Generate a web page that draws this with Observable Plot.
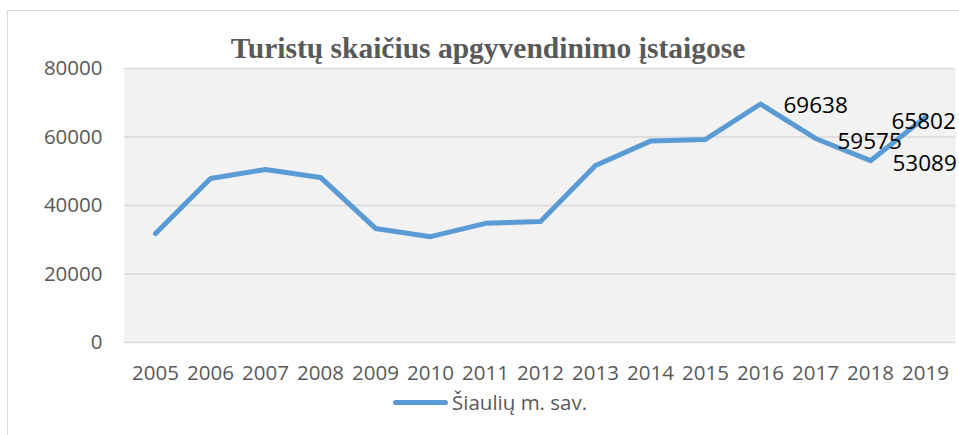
<!DOCTYPE html>
<html>
<head>
<meta charset="utf-8">
<script src="https://cdn.jsdelivr.net/npm/d3@7"></script>
<script src="https://cdn.jsdelivr.net/npm/@observablehq/plot@0.6"></script>
<style>
  html, body { margin: 0; padding: 0; background: #fff; overflow: hidden; }
  #wrap { position: relative; width: 959px; height: 435px; overflow: hidden; }
  #border { position: absolute; left: 7px; top: 10px; width: 1000px; height: 1000px; border: 1.5px solid #d9d9d9; box-sizing: border-box; }
  #title { position: absolute; left: 0; width: 976px; top: 31px; text-align: center; font-family: "Liberation Serif", "Times New Roman", serif; font-weight: bold; font-size: 29.5px; color: #595959; white-space: nowrap; line-height: 34px; }
  #legend { position: absolute; left: 393px; top: 390px; height: 24px; display: flex; align-items: center; font-family: "Open Sans", sans-serif; font-size: 20.5px; color: #595959; }
  #legend .sw { width: 55px; height: 5px; border-radius: 3px; background: #5b9bd5; margin-right: 4px; }
  #chart { position: absolute; left: 0; top: 0; }
</style>
</head>
<body>
<div id="wrap">
  <div id="border"></div>
  <div id="chart"></div>
  <div id="title">Turistų skaičius apgyvendinimo įstaigose</div>
  <div id="legend"><div class="sw"></div><span>Šiaulių m. sav.</span></div>
</div>
<script>
const years = ["2005","2006","2007","2008","2009","2010","2011","2012","2013","2014","2015","2016","2017","2018","2019"];
const values = [31800, 47900, 50500, 48200, 33300, 30900, 34800, 35300, 51700, 58800, 59300, 69638, 59575, 53089, 65802];
const yTicks = [0, 20000, 40000, 60000, 80000];
const seriesName = "Šiaulių m. sav.";
const labeledYears = ["2016", "2017", "2018", "2019"];

const data = years.map((y, i) => ({year: y, value: values[i], series: seriesName}));
const lab = (yr) => data.filter(d => d.year === yr);

const plot = Plot.plot({
  width: 959,
  height: 435,
  marginLeft: 124,
  marginRight: 4,
  marginTop: 68,
  marginBottom: 93,
  style: {fontFamily: "'Open Sans', sans-serif", background: "transparent", overflow: "visible"},
  x: {type: "point", domain: years, padding: 0.5, label: null},
  y: {domain: [0, 80000], label: null},
  marks: [
    Plot.frame({fill: "#f2f2f2", stroke: null}),
    Plot.gridY(yTicks, {stroke: "#d9d9d9", strokeOpacity: 1, strokeWidth: 1.5}),
    Plot.axisY(yTicks, {tickSize: 0, tickPadding: 22, fontSize: 20.5, fill: "#595959", tickFormat: d => String(d), label: null}),
    Plot.axisX(years, {tickSize: 0, tickPadding: 23, fontSize: 20.5, fill: "#595959", label: null}),
    Plot.line(data, {x: "year", y: "value", stroke: "#5b9bd5", strokeWidth: 5, strokeLinejoin: "round", strokeLinecap: "round"}),
    Plot.text(lab("2016"), {x: "year", y: "value", text: d => String(d.value), textAnchor: "start", dx: 23, dy: 2, fontSize: 22.5, fill: "#000"}),
    Plot.text(lab("2017"), {x: "year", y: "value", text: d => String(d.value), textAnchor: "start", dx: 22, dy: 3, fontSize: 22.5, fill: "#000"}),
    Plot.text(lab("2018"), {x: "year", y: "value", text: d => String(d.value), textAnchor: "start", dx: 22, dy: 3, fontSize: 22.5, fill: "#000"}),
    Plot.text(lab("2019"), {x: "year", y: "value", text: d => String(d.value), textAnchor: "start", dx: -34, dy: 5, fontSize: 22.5, fill: "#000"})
  ]
});
document.getElementById("chart").appendChild(plot);
</script>
</body>
</html>
